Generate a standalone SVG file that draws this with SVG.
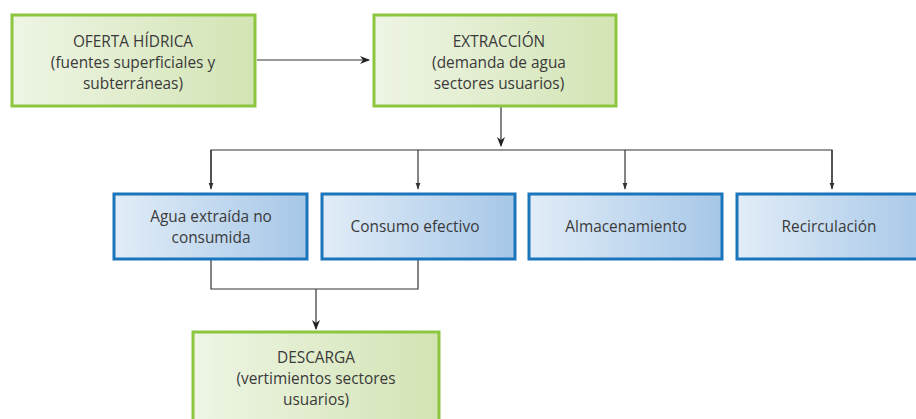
<svg xmlns="http://www.w3.org/2000/svg" width="916" height="419" viewBox="0 0 916 419">
<defs>
<linearGradient id="gG" x1="0" y1="0" x2="1" y2="0">
<stop offset="0" stop-color="#eef5e5"/>
<stop offset="1" stop-color="#d3e4b4"/>
</linearGradient>
<linearGradient id="gB" x1="0" y1="0" x2="1" y2="0">
<stop offset="0" stop-color="#e2edf8"/>
<stop offset="1" stop-color="#a6c7e7"/>
</linearGradient>
<marker id="ah" viewBox="0 0 10 10" refX="9" refY="5" markerWidth="10" markerHeight="10" markerUnits="userSpaceOnUse" orient="auto">
<path d="M0,1 L10,5 L0,9 L3,5 Z" fill="#222"/>
</marker>
<marker id="ahs" viewBox="0 0 10 10" refX="9" refY="5" markerWidth="7" markerHeight="7" markerUnits="userSpaceOnUse" orient="auto">
<path d="M0,1.5 L10,5 L0,8.5 Z" fill="#333"/>
</marker>
</defs>
<style>
.g{fill:url(#gG);stroke:#8cc63f;stroke-width:3}
.b{fill:url(#gB);stroke:#1b75bb;stroke-width:3}
.t{font-family:"Open Sans","Noto Sans",sans-serif;font-size:15.4px;fill:#3a3a3a;text-anchor:middle}
.c{fill:none;stroke:#333;stroke-width:1.2}
</style>
<g id="connectors">
<line class="c" x1="257" y1="60" x2="369" y2="60" marker-end="url(#ah)"/>
<line class="c" x1="501" y1="107" x2="501" y2="146" marker-end="url(#ah)"/>
<polyline class="c" points="211,188 211,150 832,150 832,188"/>
<line class="c" x1="211" y1="150" x2="211" y2="189" marker-end="url(#ahs)"/>
<line class="c" x1="418" y1="150" x2="418" y2="189" marker-end="url(#ahs)"/>
<line class="c" x1="625" y1="150" x2="625" y2="189" marker-end="url(#ahs)"/>
<line class="c" x1="832" y1="150" x2="832" y2="189" marker-end="url(#ahs)"/>
<polyline class="c" points="211,260 211,289 418,289 418,260"/>
<line class="c" x1="316" y1="289" x2="316" y2="329" marker-end="url(#ah)"/>
</g>
<g id="oferta">
<rect class="g" x="12" y="15" width="243" height="91"/>
<text class="t" x="133" y="47">OFERTA HÍDRICA</text>
<text class="t" x="133" y="68">(fuentes superficiales y</text>
<text class="t" x="133" y="89">subterráneas)</text>
</g>
<g id="extraccion">
<rect class="g" x="374" y="15" width="242" height="91"/>
<text class="t" x="499" y="47">EXTRACCIÓN</text>
<text class="t" x="499" y="68">(demanda de agua</text>
<text class="t" x="499" y="89">sectores usuarios)</text>
</g>
<g id="agua">
<rect class="b" x="114" y="194" width="193" height="65"/>
<text class="t" x="211" y="222">Agua extraída no</text>
<text class="t" x="211" y="243">consumida</text>
</g>
<g id="consumo">
<rect class="b" x="322" y="194" width="193" height="65"/>
<text class="t" x="415" y="232">Consumo efectivo</text>
</g>
<g id="almacenamiento">
<rect class="b" x="529" y="194" width="193" height="65"/>
<text class="t" x="626" y="232">Almacenamiento</text>
</g>
<g id="recirculacion">
<rect class="b" x="737" y="194" width="193" height="65"/>
<text class="t" x="829" y="232">Recirculación</text>
</g>
<g id="descarga">
<rect class="g" x="193" y="332" width="246" height="100"/>
<text class="t" x="316" y="363">DESCARGA</text>
<text class="t" x="316" y="384">(vertimientos sectores</text>
<text class="t" x="316" y="405">usuarios)</text>
</g>
</svg>
